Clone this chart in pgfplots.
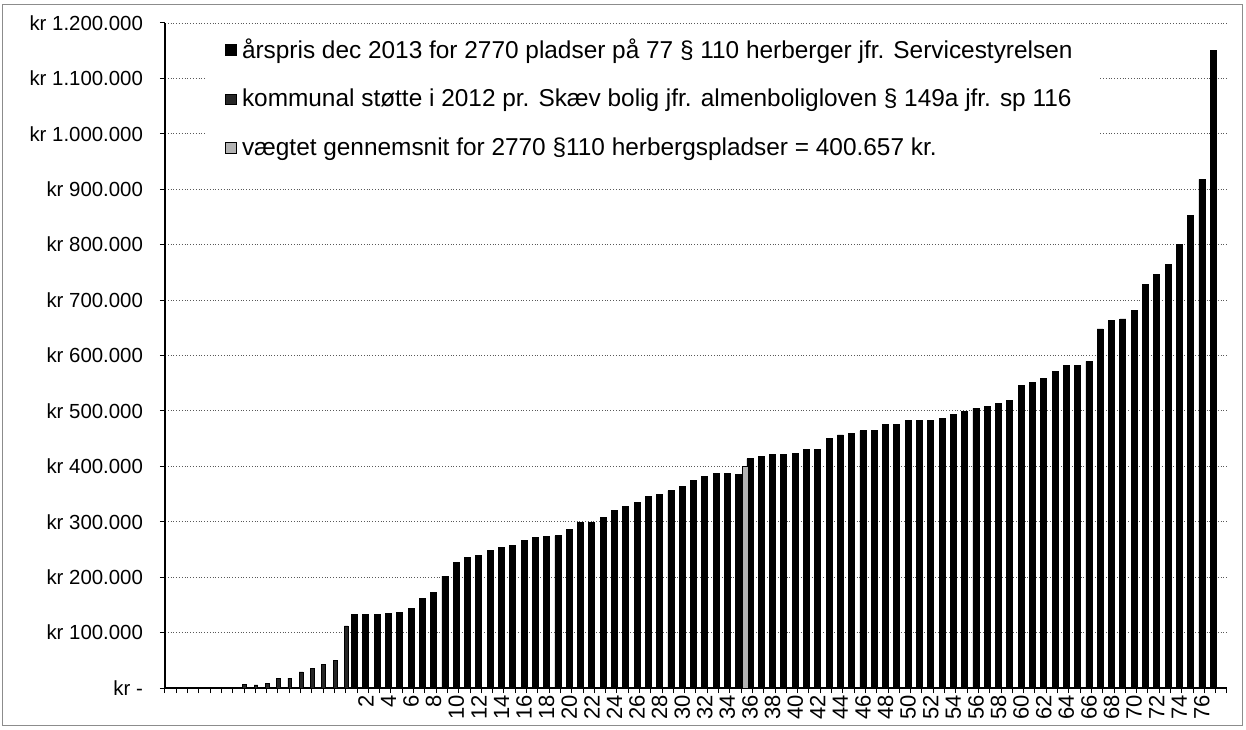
\documentclass[border=0pt]{standalone}
\usepackage{fontspec}
\setmainfont{Liberation Sans}
\usepackage{pgfplots}
\pgfplotsset{compat=1.18}
\pgfplotsset{sq legend/.style={legend image code/.code={\draw[##1,draw=black,line width=0.4pt] (0pt,-2.7pt) rectangle (5.4pt,2.7pt);}}}
\begin{document}
\begin{tikzpicture}
\path (-82.5pt,-20.5pt) rectangle (540.5pt,344pt);
\draw[black!45, line width=0.4pt] (-81.5pt,-18.5pt) rectangle (538.5pt,342pt);
\begin{axis}[
  scale only axis, width=531pt, height=332.5pt,
  xmin=-15.78, xmax=78.22, ymin=0, ymax=1200000,
  axis lines=left, axis line style={-, black, line width=0.7pt},
  /pgf/number format/assume math mode=true,
  xtick={-15.78,-14.78,...,78.22}, xticklabels={},
  extra x ticks={2,4,...,76},
  extra x tick style={major tick length=0pt, tick style={draw=none}},
  xticklabel style={rotate=90, anchor=east, font=\fontsize{11}{11}\selectfont},
  ytick={0,100000,...,1200000},
  yticklabels={kr -,kr 100.000,kr 200.000,kr 300.000,kr 400.000,kr 500.000,kr 600.000,kr 700.000,kr 800.000,kr 900.000,kr 1.000.000,kr 1.100.000,kr 1.200.000},
  scaled y ticks=false,
  yticklabel style={font=\fontsize{10.2}{12}\selectfont, xshift=-5pt},
  tick align=outside, major tick length=2.5pt, tick style={black, line width=0.5pt},
  ymajorgrids, grid style={black!65, densely dotted, line width=0.45pt},
  legend style={draw=none, fill=white, at={(0.8785,0.997)}, anchor=north east,
    font=\fontsize{12.2}{14}\selectfont, row sep=10pt, inner xsep=10pt, inner ysep=4.5pt,
    cells={anchor=west}, nodes={inner xsep=2.5pt}},
  legend cell align=left,
]
\addplot[ybar, bar width=3pt, bar shift=0pt, fill=black, draw=black, sq legend] coordinates {
(1,132500) (2,132000) (3,132500) (4,134000) (5,137000) (6,144000) (7,162000) (8,173000)
(9,202000) (10,227000) (11,235000) (12,239000) (13,249000) (14,253500) (15,256500) (16,267000)
(17,271000) (18,273500) (19,274500) (20,286700) (21,298800) (22,298800) (23,308000) (24,320000)
(25,327000) (26,334500) (27,345500) (28,348500) (29,356000) (30,363600) (31,374500) (32,382000)
(33,386700) (34,386700) (35,385500) (36,414000) (37,418000) (38,421500) (39,421000) (40,424000)
(41,431000) (42,430000) (43,450000) (44,456600) (45,460000) (46,464000) (47,464000) (48,476000)
(49,476000) (50,482000) (51,482000) (52,482000) (53,486000) (54,494000) (55,498600) (56,504700)
(57,507700) (58,514000) (59,519500) (60,545600) (61,551700) (62,557800) (63,571000) (64,582000)
(65,582000) (66,589500) (67,648000) (68,662500) (69,666000) (70,681000) (71,728000) (72,746500)
(73,764700) (74,801000) (75,853000) (76,918000) (77,1151000)
};
\addlegendentry{årspris dec 2013 for 2770 pladser på 77 § 110 herberger jfr. Servicestyrelsen}
\addplot[ybar, bar width=1.9pt, bar shift=0pt, fill=black!85, draw=black, sq legend] coordinates {
(-8.73,6000) (-7.73,5500) (-6.73,9000) (-5.73,17000) (-4.73,18000) (-3.73,29000)
(-2.73,35000) (-1.73,43000) (-0.73,50000) (0.27,112000)
};
\addlegendentry{kommunal støtte i 2012 pr. Skæv bolig jfr. almenboligloven § 149a jfr. sp 116}
\addplot[ybar, bar width=2.6pt, bar shift=0pt, fill=black!30, draw=black, sq legend] coordinates {
(35.6,400657)
};
\addlegendentry{vægtet gennemsnit for 2770 §110 herbergspladser = 400.657 kr.}
\draw[black!60, line width=0.4pt] (rel axis cs:1,0) -- (rel axis cs:1,1);
\end{axis}
\end{tikzpicture}
\end{document}
